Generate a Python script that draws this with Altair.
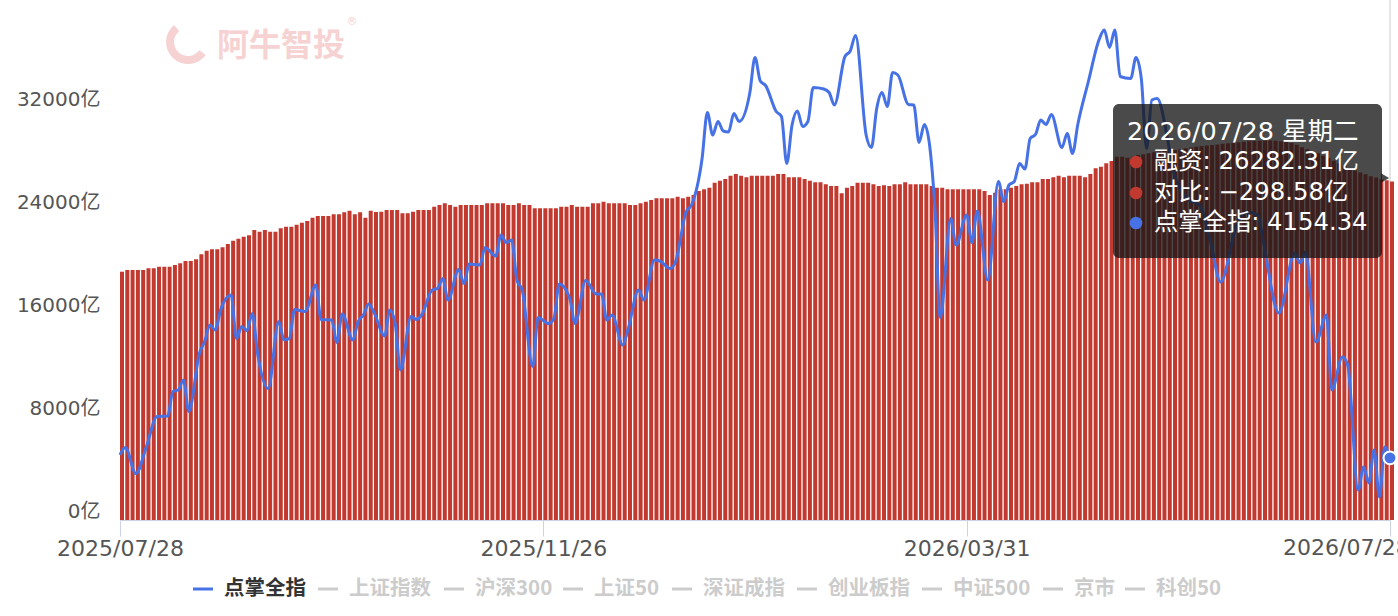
import altair as alt
import pandas as pd

# ---------------- data ----------------
tick_days = [0, 80, 160, 240]
tick_labels = ["2025/07/28", "2025/11/26", "2026/03/31", "2026/07/28"]

# 融资余额 (亿) per trading day, index 0 = 2025/07/28 ... 240 = 2026/07/28
margin = [
    19285, 19417, 19417, 19417, 19417, 19547, 19547, 19676, 19676, 19676,
    19806, 19935, 20117, 20117, 20245, 20634, 20919, 21023, 21023, 21178,
    21437, 21696, 21851, 22006, 22110, 22524, 22394, 22524, 22394, 22394,
    22653, 22783, 22783, 22938, 23094, 23223, 23482, 23612, 23612, 23612,
    23741, 23741, 23896, 24026, 23741, 23896, 23482, 24026, 23920, 23948,
    24078, 24078, 24078, 23819, 23819, 23948, 24078, 24078, 24078, 24337,
    24466, 24595, 24466, 24337, 24466, 24466, 24466, 24466, 24466, 24595,
    24595, 24595, 24595, 24466, 24466, 24595, 24466, 24466, 24207, 24207,
    24207, 24207, 24207, 24337, 24337, 24466, 24337, 24337, 24337, 24595,
    24595, 24725, 24595, 24595, 24595, 24595, 24466, 24466, 24595, 24725,
    24854, 24984, 24984, 24984, 24984, 25113, 24984, 25113, 25243, 25553,
    25683, 25812, 26200, 26355, 26485, 26744, 26874, 26744, 26614, 26744,
    26744, 26744, 26744, 26744, 26874, 26874, 26614, 26614, 26614, 26485,
    26355, 26226, 26226, 26070, 25941, 25941, 25372, 25812, 25941, 26200,
    26200, 26200, 26070, 25941, 26000, 25941, 26070, 26070, 26226, 26070,
    26070, 26070, 26070, 25941, 25812, 25812, 25683, 25683, 25683, 25683,
    25683, 25683, 25683, 25553, 25243, 25424, 25683, 25683, 25812, 25941,
    26070, 26120, 26226, 26226, 26485, 26485, 26614, 26744, 26614, 26744,
    26744, 26744, 26614, 26874, 27314, 27443, 27702, 27883, 28220, 28220,
    28140, 28220, 28350, 28400, 28480, 28560, 28620, 28680, 28720, 28740,
    28800, 28870, 28940, 29000, 29040, 29080, 29120, 29160, 29220, 29260,
    29300, 29340, 29380, 29410, 29430, 29450, 29460, 29470, 29460, 29420,
    29360, 29280, 29150, 28950, 28800, 28650, 28480, 28300, 28100, 27900,
    27700, 27500, 27300, 27150, 27000, 26850, 26700, 26600, 26450, 26380,
    26282.31,
]

# 点掌全指 readings (trading-day index, value)
index_days = [
    0, 1, 3, 5, 7, 9, 10, 11, 12, 13, 15, 16, 17, 18, 19, 21, 22, 23, 24, 25,
    26, 28, 30, 31, 32, 33, 35, 37, 38, 40, 41, 42, 44, 45, 46, 47, 48, 50, 51, 52,
    53, 55, 56, 57, 59, 60, 61, 62, 64, 65, 66, 68, 69, 71, 72, 73, 74, 75, 76, 78,
    79, 81, 82, 83, 85, 86, 88, 90, 91, 92, 93, 95, 96, 98, 99, 101, 102, 104, 105, 107,
    108, 110, 111, 112, 113, 114, 115, 116, 117, 119, 120, 121, 122, 124, 125, 126, 127, 128, 129, 130,
    131, 133, 134, 135, 137, 138, 139, 141, 142, 143, 144, 145, 146, 147, 149, 150, 151, 152, 154, 155,
    157, 158, 160, 161, 162, 164, 166, 167, 168, 169, 170, 171, 172, 173, 174, 175, 176, 178, 179, 180,
    181, 183, 185, 186, 187, 188, 189, 191, 192, 193, 194, 195, 196, 198, 199, 202, 204, 206, 208, 211,
    213, 215, 216, 219, 222, 223, 224, 226, 228, 229, 231, 232, 234, 235, 236, 237, 238, 239, 240,
]
index_values = [
    4160, 4175, 4123, 4177, 4237, 4238, 4287, 4290, 4310, 4247, 4363, 4387, 4420, 4410, 4450, 4480, 4393, 4417, 4409, 4443,
    4363, 4293, 4427, 4390, 4393, 4451, 4447, 4500, 4431, 4430, 4385, 4442, 4390, 4427, 4440, 4462, 4445, 4398, 4450, 4423,
    4330, 4437, 4431, 4440, 4490, 4493, 4513, 4470, 4531, 4503, 4542, 4540, 4575, 4558, 4600, 4585, 4590, 4510, 4490, 4337,
    4435, 4423, 4433, 4502, 4473, 4423, 4509, 4482, 4482, 4430, 4440, 4380, 4411, 4490, 4470, 4550, 4548, 4533, 4547, 4647,
    4660, 4753, 4845, 4800, 4827, 4808, 4806, 4843, 4827, 4883, 4955, 4908, 4899, 4847, 4837, 4743, 4820, 4848, 4817, 4827,
    4895, 4892, 4885, 4860, 4957, 4968, 4999, 4800, 4775, 4853, 4885, 4857, 4925, 4920, 4861, 4860, 4785, 4821, 4653, 4435,
    4633, 4580, 4640, 4585, 4648, 4510, 4707, 4667, 4700, 4707, 4743, 4732, 4793, 4801, 4830, 4821, 4841, 4775, 4803, 4763,
    4821, 4907, 4990, 5010, 4975, 5010, 4917, 4913, 4955, 4913, 4773, 4870, 4873, 4790, 4730, 4670, 4660, 4590, 4506, 4620,
    4646, 4640, 4590, 4444, 4564, 4544, 4566, 4386, 4440, 4290, 4356, 4340, 4090, 4136, 4104, 4170, 4076, 4176, 4154.34,
]

legend_names = ["点掌全指", "上证指数", "沪深300", "上证50", "深证成指", "创业板指", "中证500", "京市", "科创50"]

tooltip_title = "2026/07/28 星期二"
tooltip_rows = ["融资: 26282.31亿", "对比:  −298.58亿", "点掌全指: 4154.34"]

# ---------------- styling ----------------
RED = "#c23a2f"
BLUE = "#4672e6"
FONT = "DejaVu Sans, Noto Sans CJK SC"
W, H = 1270, 515
PL, PT = 120, 5
XLAB = 22

one = pd.DataFrame({"k": [0]})
bars_df = pd.DataFrame({"day": list(range(len(margin))), "margin": margin})
line_df = pd.DataFrame({"day": index_days, "value": index_values})
last_df = line_df.tail(1)

# axis labels for all ticks but the last (the last one is drawn shifted, as in the source)
expr = ""
for d, lab in zip(tick_days[:-1], tick_labels[:-1]):
    expr += f"datum.value == {d} ? '{lab}' : "
expr += "''"

x_scale = alt.Scale(domain=[tick_days[0], tick_days[-1]], nice=False, zero=False, padding=0)
x_axis = alt.Axis(
    values=tick_days, labelExpr=expr, title=None, grid=False,
    domainColor="#ccd3e6", tickColor="#ccd3e6", tickSize=16,
    labelFontSize=XLAB, labelColor="#555555", labelFont=FONT, labelPadding=2,
    labelFlush=False, labelOverlap=False, labelBound=False,
)
x_enc = alt.X("day:Q", scale=x_scale, axis=x_axis)
idx_scale = alt.Scale(domain=[4030, 5060], nice=False, zero=False)

crosshair = alt.Chart(last_df).mark_rule(color="#cccccc", strokeWidth=1).encode(
    x=x_enc, y=alt.value(-5), y2=alt.value(H)
)

bars = alt.Chart(bars_df).mark_bar(size=4, color=RED, xOffset=2).encode(
    x=x_enc,
    y=alt.Y(
        "margin:Q",
        scale=alt.Scale(domain=[0, 40000], nice=False),
        axis=alt.Axis(
            values=[0, 8000, 16000, 24000, 32000], labelExpr="datum.value + '亿'",
            domain=False, ticks=False, tickSize=0, grid=False, title=None,
            labelFontSize=20, labelColor="#555555", labelFont=FONT,
            labelPadding=20, labelOffset=-9,
        ),
    ),
)

line = alt.Chart(line_df).mark_line(interpolate="monotone", color=BLUE, strokeWidth=3).encode(
    x=x_enc, y=alt.Y("value:Q", scale=idx_scale, axis=None)
)

dot = alt.Chart(last_df).mark_circle(size=165, color=BLUE, opacity=1, stroke="white", strokeWidth=2).encode(
    x=x_enc, y=alt.Y("value:Q", scale=idx_scale, axis=None)
)

layers = [crosshair, bars, line, dot]

# last date label, shifted left like in the source (clipped by the right edge)
layers.append(alt.Chart(one).mark_text(text=tick_labels[-1], font=FONT, fontSize=XLAB, color="#555555",
                                        align="left", baseline="middle").encode(
    x=alt.value(1283 - PL), y=alt.value(548 - PT)))

# watermark
layers.append(alt.Chart(one).mark_arc(color="#f6d2d2", theta=2.2, theta2=5.6, innerRadius=14, outerRadius=22).encode(
    x=alt.value(188 - PL), y=alt.value(42 - PT)))
layers.append(alt.Chart(one).mark_text(text="阿牛智投", font="Noto Sans CJK SC", fontWeight="bold", fontSize=32,
                                        color="#f6d2d2", align="center", baseline="middle").encode(
    x=alt.value(281 - PL), y=alt.value(46 - PT)))
layers.append(alt.Chart(one).mark_text(text="®", font="DejaVu Sans", fontSize=11, color="#f6d2d2",
                                        align="center", baseline="middle").encode(
    x=alt.value(352 - PL), y=alt.value(22 - PT)))

# tooltip box
TT_FILL = "#171717"
layers.append(alt.Chart(one).mark_rect(color=TT_FILL, opacity=0.78, cornerRadius=6).encode(
    x=alt.value(1113 - PL), x2=alt.value(1382 - PL), y=alt.value(104 - PT), y2=alt.value(258 - PT)))
layers.append(alt.Chart(one).mark_point(shape="triangle-right", filled=True, color=TT_FILL, opacity=0.78, size=90).encode(
    x=alt.value(1385 - PL), y=alt.value(178 - PT)))
layers.append(alt.Chart(one).mark_text(text=tooltip_title, font=FONT, fontSize=25.5, color="white",
                                        align="left", baseline="middle").encode(
    x=alt.value(1127 - PL), y=alt.value(132 - PT)))
row_y = [162, 193, 223]
row_col = [RED, RED, BLUE]
for txt, yy, cc in zip(tooltip_rows, row_y, row_col):
    layers.append(alt.Chart(one).mark_circle(size=160, color=cc, opacity=1).encode(
        x=alt.value(1136 - PL), y=alt.value(yy - PT)))
    layers.append(alt.Chart(one).mark_text(text=txt, font=FONT, fontSize=24.3, color="white",
                                            align="left", baseline="middle").encode(
        x=alt.value(1154 - PL), y=alt.value(yy - PT)))

# legend
dash_x = [193, 318, 444, 563, 672, 797, 922, 1043, 1125]
LEG_Y = 589
for i, (name, dx) in enumerate(zip(legend_names, dash_x)):
    active = i == 0
    layers.append(alt.Chart(one).mark_rule(color=BLUE if active else "#cccccc", strokeWidth=3).encode(
        x=alt.value(dx - PL), x2=alt.value(dx + 20 - PL), y=alt.value(LEG_Y - PT)))
    layers.append(alt.Chart(one).mark_text(text=name, font="Noto Sans CJK SC", fontWeight="bold", fontSize=20.5,
                                            color="#333333" if active else "#cccccc",
                                            align="left", baseline="middle").encode(
        x=alt.value(dx + 31 - PL), y=alt.value(LEG_Y - PT)))

chart = alt.layer(*layers).resolve_scale(y="independent").properties(
    width=W, height=H,
    padding={"left": PL, "top": PT, "right": 1398 - PL - W, "bottom": 616 - PT - H},
    autosize=alt.AutoSizeParams(type="none"),
).configure_view(stroke=None)

chart.save("out.html", embed_options={"renderer": "svg", "actions": False})
